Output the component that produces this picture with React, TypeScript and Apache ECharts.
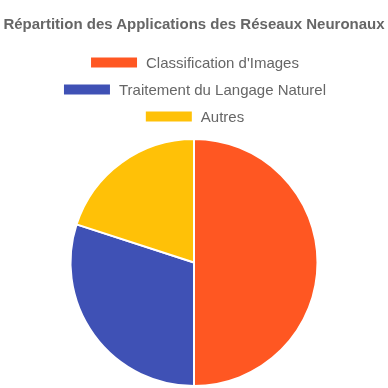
import React, { useEffect, useRef } from "react";
import * as echarts from "echarts";

const categories = ["Classification d'Images", "Traitement du Langage Naturel", "Autres"];
const values = [50, 30, 20];
const colors = ["#FF5722", "#3F51B5", "#FFC107"];
const legendTops = [55, 82, 109];

export default function App() {
  const ref = useRef<HTMLDivElement>(null);
  useEffect(() => {
    if (!ref.current) return;
    const chart = echarts.init(ref.current, null, { renderer: "svg" });
    const font = "Liberation Sans, Arial, sans-serif";
    chart.setOption({
      animation: false,
      title: {
        text: "Répartition des Applications des Réseaux Neuronaux",
        left: "center",
        top: 11,
        textStyle: { fontSize: 15, fontWeight: "bold", color: "#666", fontFamily: font },
      },
      legend: categories.map((name, i) => ({
        left: "center",
        top: legendTops[i],
        icon: "rect",
        itemWidth: 48,
        itemHeight: 12,
        padding: 0,
        textStyle: { fontSize: 15, color: "#666", fontFamily: font, padding: [0, 0, 0, 3] },
        data: [name],
      })),
      series: [
        {
          type: "pie",
          center: [194, 262.5],
          radius: [0, 123.5],
          startAngle: 90,
          clockwise: true,
          label: { show: false },
          labelLine: { show: false },
          itemStyle: { borderColor: "#fff", borderWidth: 2 },
          data: categories.map((name, i) => ({ name, value: values[i], itemStyle: { color: colors[i] } })),
        },
      ],
    });
    return () => chart.dispose();
  }, []);
  return <div ref={ref} style={{ position: "fixed", left: 0, top: 0, width: 388, height: 388 }} />;
}
